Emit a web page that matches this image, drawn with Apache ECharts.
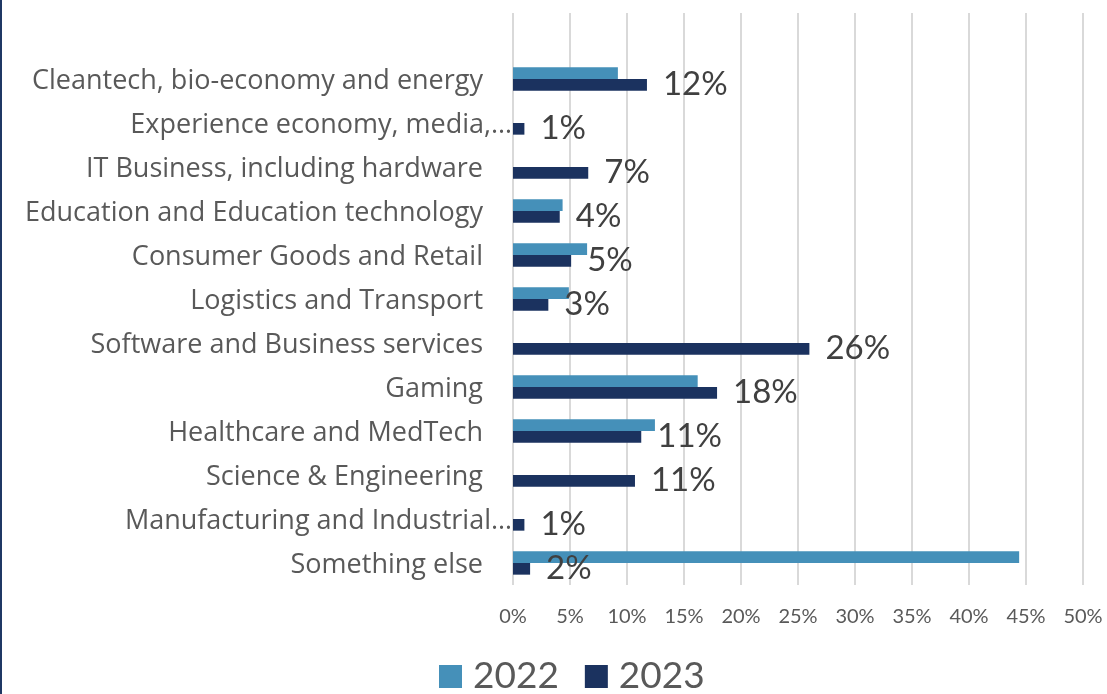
<!DOCTYPE html>
<html>
<head>
<meta charset="utf-8">
<script src="https://cdn.jsdelivr.net/npm/echarts@6/dist/echarts.min.js"></script>
<style>
  html, body { margin: 0; padding: 0; background: #fff; }
  #chart { width: 1107px; height: 694px; }
</style>
</head>
<body>
<div id="chart"></div>
<script>
// Sectors, listed top to bottom (first entry is an empty spacer row)
const categories = [
  '',
  'Cleantech, bio-economy and energy',
  'Experience economy, media,\u2026',
  'IT Business, including hardware',
  'Education and Education technology',
  'Consumer Goods and Retail',
  'Logistics and Transport',
  'Software and Business services',
  'Gaming',
  'Healthcare and MedTech',
  'Science & Engineering',
  'Manufacturing and Industrial\u2026',
  'Something else'
];
// Share of respondents, percent
const values2022 = [null, 9.2, 0, 0, 4.35, 6.5, 4.9, 0, 16.2, 12.45, 0, 0, 44.4];
const values2023 = [null, 11.75, 1.0, 6.6, 4.1, 5.1, 3.1, 26.0, 17.9, 11.25, 10.7, 1.0, 1.5];
const seriesNames = ['2022', '2023'];
const xTicks = { min: 0, max: 50, step: 5 };

const FONT = 'Lato';
const CAT_FONT = 'Open Sans';
const colors = ['#4590b9', '#1b325f'];

const chart = echarts.init(document.getElementById('chart'), null, { renderer: 'canvas' });

chart.setOption({
  animation: false,
  textStyle: { fontFamily: FONT },
  grid: { left: 513, right: 24, top: 13, bottom: 109, containLabel: false },
  legend: {
    data: seriesNames,
    left: 439,
    top: 658,
    padding: 0,
    itemWidth: 23,
    itemHeight: 23,
    itemGap: 26,
    icon: 'rect',
    textStyle: { fontSize: 37, color: '#595959', fontFamily: FONT, padding: [0, 0, 0, 6] }
  },
  xAxis: {
    type: 'value',
    min: xTicks.min,
    max: xTicks.max,
    interval: xTicks.step,
    axisLine: { show: false },
    axisTick: { show: false },
    splitLine: { show: true, lineStyle: { color: '#d9d9d9', width: 2 } },
    axisLabel: { formatter: '{value}%', fontSize: 20, color: '#595959', margin: 22, fontFamily: FONT }
  },
  yAxis: {
    type: 'category',
    data: categories,
    inverse: true,
    axisLine: { show: false },
    axisTick: { show: false },
    splitLine: { show: false },
    axisLabel: {
      margin: 1,
      fontSize: 27,
      color: '#595959',
      fontFamily: CAT_FONT,
      formatter: function (v) {
        if (!v) return '';
        return v.endsWith('\u2026') ? '{t|' + v + '}' : '{n|' + v + '}';
      },
      rich: {
        n: { fontSize: 27, color: '#595959', fontFamily: CAT_FONT, padding: [4, 29, 0, 0] },
        t: { fontSize: 27, color: '#595959', fontFamily: CAT_FONT, padding: [4, 0, 0, 0] }
      }
    }
  },
  series: [
    {
      name: seriesNames[0],
      type: 'bar',
      data: values2022,
      barGap: '0%',
      barCategoryGap: '47%',
      itemStyle: { color: colors[0] }
    },
    {
      name: seriesNames[1],
      type: 'bar',
      data: values2023,
      barGap: '0%',
      barCategoryGap: '47%',
      itemStyle: { color: colors[1] },
      label: {
        show: true,
        position: 'right',
        distance: 16,
        fontSize: 33,
        color: '#404040',
        fontFamily: FONT,
        formatter: function (p) { return p.value == null ? '' : Math.round(p.value) + '%'; }
      }
    }
  ],
  graphic: [
    { type: 'rect', left: 0, top: 0, shape: { width: 2, height: 694 }, style: { fill: '#1f3864' } }
  ]
});
</script>
</body>
</html>
